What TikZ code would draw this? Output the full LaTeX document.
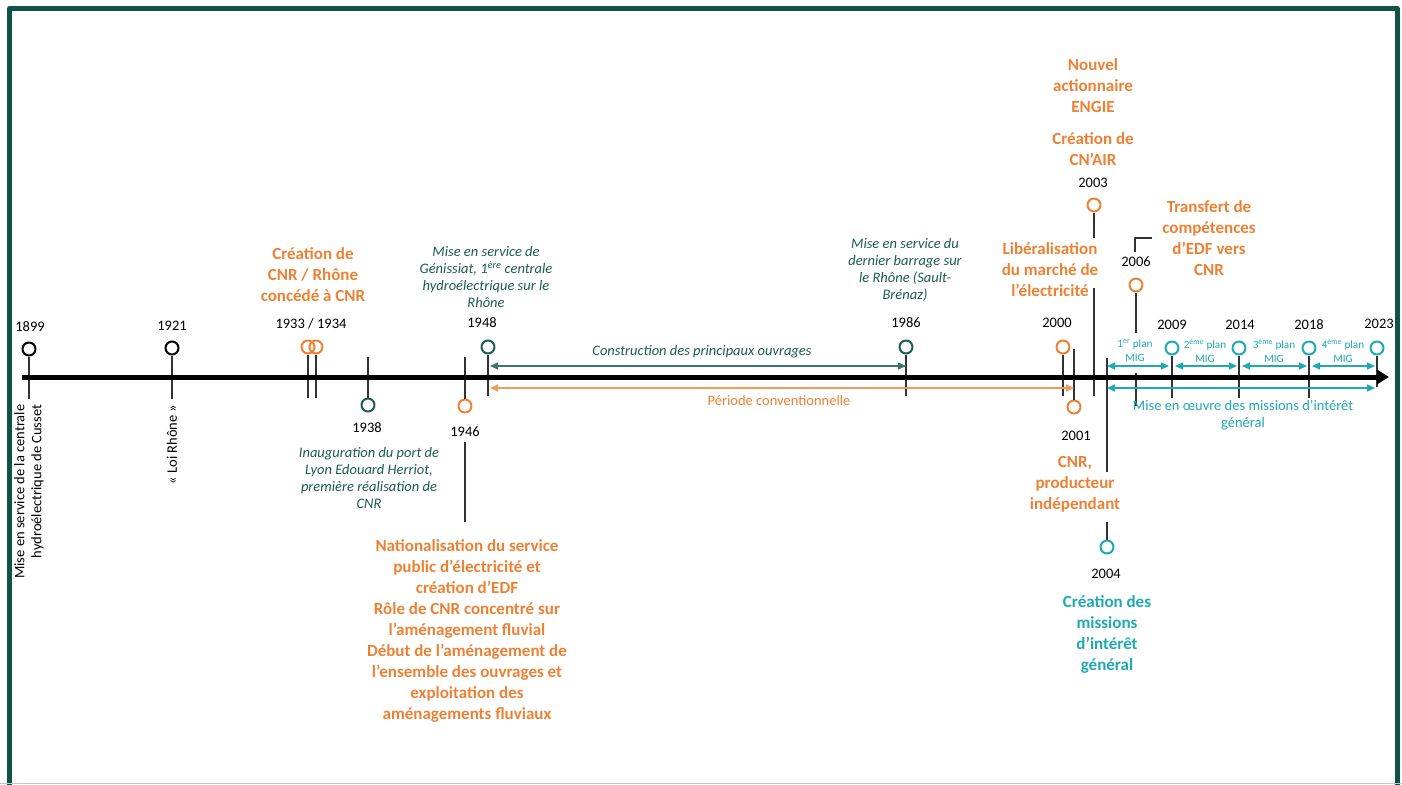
\documentclass[tikz,border=0pt]{standalone}
\usepackage{fontspec}
\setmainfont{Carlito}
\usetikzlibrary{arrows.meta}
\usetikzlibrary{positioning}
\definecolor{orangeCNR}{HTML}{EE8033}
\definecolor{vertCNR}{HTML}{1D5C4F}
\definecolor{turquoise}{HTML}{1FA9B2}
\definecolor{cadre}{HTML}{0E5346}
\definecolor{trait}{HTML}{333333}
\tikzstyle{every node}=[font=\fontsize{14.5}{17}\selectfont,inner sep=1pt]
\tikzstyle{every path}=[line width=1.3pt,line cap=round,line join=round]
\tikzstyle{jalon}=[circle,draw,line width=2pt,minimum size=13pt,inner sep=0pt]
\tikzstyle{tige}=[draw=trait,line width=1.3pt,line cap=butt]
\tikzstyle{titre}=[font=\fontsize{17}{21}\selectfont\bfseries,align=center]
\tikzstyle{legende}=[font=\fontsize{14.5}{17.2}\selectfont\itshape,align=center,text=vertCNR]
\tikzstyle{periode}=[line width=1.5pt,line cap=butt,{Triangle[length=8pt,width=7pt]}-{Triangle[length=8pt,width=7pt]}]
\tikzstyle{petit}=[font=\fontsize{11.2}{14}\selectfont,align=center,text=turquoise]

\begin{document}
\begin{tikzpicture}[x=1pt,y=-1pt]
\useasboundingbox (0,0) rectangle (1402,784);
%cadre
\draw[cadre,line width=5pt,line cap=butt] (9.5,795) -- (9.5,8.5) -- (1397,8.5) -- (1397,795);
\draw[gray!45,line width=1pt] (0,783.5) -- (1402,783.5);

%axe
\coordinate (debut) at (22,377);
\coordinate (fin) at (1389,377);
\coordinate (haut) at (0,366);
\coordinate (bas) at (0,388);

%jalons
\node[jalon,draw=black] (c1899) at (29,349) {};
\node[jalon,draw=black] (c1921) at (172,348) {};
\node[jalon,draw=orangeCNR] (c1933) at (308,347) {};
\node[jalon,draw=orangeCNR] (c1934) at (316,347) {};
\node[jalon,draw=vertCNR] (c1938) at (368,405) {};
\node[jalon,draw=orangeCNR] (c1946) at (465,406) {};
\node[jalon,draw=vertCNR] (c1948) at (488,347) {};
\node[jalon,draw=vertCNR] (c1986) at (906,347) {};
\node[jalon,draw=orangeCNR] (c2000) at (1063,347) {};
\node[jalon,draw=orangeCNR] (c2001) at (1074,407) {};
\node[jalon,draw=orangeCNR] (c2003) at (1094,205) {};
\node[jalon,draw=turquoise] (c2004) at (1107,547) {};
\node[jalon,draw=orangeCNR] (c2006) at (1136,285) {};
\node[jalon,draw=turquoise] (c2009) at (1172,348) {};
\node[jalon,draw=turquoise] (c2014) at (1239,348) {};
\node[jalon,draw=turquoise] (c2018) at (1309,348) {};
\node[jalon,draw=turquoise] (c2023) at (1377,348) {};

%tiges
\draw[tige] (c1899.south) -- ++(0,42);
\draw[tige] (c1921.south) -- ++(0,43);
\draw[tige] (c1933.south) -- ++(0,43);
\draw[tige] (c1934.south) -- ++(0,43);
\draw[tige] (c1938.north) -- ++(0,-41);
\draw[tige] (c1946.north) -- ++(0,-42);
\draw[tige] (c1948.south) -- ++(0,41);
\draw[tige] (c1986.south) -- ++(0,41);
\draw[tige] (c2000.south) -- ++(0,41);
\draw[tige] (c2001.north) -- ++(0,-51);
\draw[tige] (c2003.south) -- ++(0,25) ++(0,50) -- ++(0,108);
\draw[tige] (c2004.north) -- ++(0,-18) ++(0,-50) -- ++(0,-114);
\draw[tige] (c2006.south) -- ++(0,40) ++(0,40) -- ++(0,33);
\draw[tige] (c2009.south) -- ++(0,42);
\draw[tige] (c2014.south) -- ++(0,42);
\draw[tige] (c2018.south) -- ++(0,42);
\draw[tige] (c2023.south) -- ++(0,31);
\coordinate (crochet) at (1135,252);
\draw[tige] (crochet) -- ++(0,-14) -- ++(17,0);

\draw[line width=5pt,line cap=butt,-{Triangle[length=12pt,width=14pt]}] (debut) -- (fin);

%periodes
\draw[periode,vertCNR!85] ([xshift=2pt]c1948 |- haut) -- (c1986 |- haut);
\draw[periode,orangeCNR!80] ([xshift=2pt]c1948 |- bas) -- (c2001 |- bas);
\draw[periode,turquoise] (c2004 |- haut) -- ([xshift=-3pt]c2009 |- haut);
\draw[periode,turquoise] ([xshift=3pt]c2009 |- haut) -- ([xshift=-2pt]c2014 |- haut);
\draw[periode,turquoise] ([xshift=3pt]c2014 |- haut) -- ([xshift=-2pt]c2018 |- haut);
\draw[periode,turquoise] ([xshift=3pt]c2018 |- haut) -- ([xshift=-2pt]c2023 |- haut);
\draw[periode,turquoise] (c2004 |- bas) -- ([xshift=-2pt]c2023 |- bas);
\node[legende] (construction) at (702,352) {Construction des principaux ouvrages};
\node[text=orangeCNR] (convention) at (779,401) {Période conventionnelle};
\node[petit] (mig1) at (1135,351) {1\textsuperscript{er} plan\\MIG};
\node[petit] (mig2) at (1205,351) {2\textsuperscript{ème} plan\\MIG};
\node[petit] (mig3) at (1274,351) {3\textsuperscript{ème} plan\\MIG};
\node[petit] (mig4) at (1343,351) {4\textsuperscript{ème} plan\\MIG};
\node[text=turquoise,align=center] (oeuvre) at (1243,415) {Mise en œuvre des missions d’intérêt\\général};

%annees
\node (a1899) at (30,327) {1899};
\node (a1921) at (172,326) {1921};
\node (a1933) at (311,324) {1933 / 1934};
\node (a1938) at (367,428) {1938};
\node (a1946) at (465,432) {1946};
\node (a1948) at (482,323) {1948};
\node (a1986) at (906,323) {1986};
\node (a2000) at (1057,323) {2000};
\node (a2001) at (1076,436) {2001};
\node (a2003) at (1093,183) {2003};
\node (a2004) at (1106,574) {2004};
\node (a2006) at (1136,262) {2006};
\node (a2009) at (1172,325) {2009};
\node (a2014) at (1240,325) {2014};
\node (a2018) at (1309,325) {2018};
\node (a2023) at (1379,324) {2023};

%evenements
\node[rotate=90,anchor=east,align=right] (t1899) at (29,403) {Mise en service de la centrale\\hydroélectrique de Cusset};
\node[rotate=90,anchor=east] (t1921) at (172,403) {« Loi Rhône »};
\node[titre,text=orangeCNR] (t1933) at (313,275) {Création de\\CNR / Rhône\\concédé à CNR};
\node[legende] (t1938) at (369,478) {Inauguration du port de\\Lyon Edouard Herriot,\\première réalisation de\\CNR};
\draw[tige] (465,442) -- (465,522);
\node[titre,text=orangeCNR] (t1946) at (467,631) {Nationalisation du service\\public d’électricité et\\création d’EDF\\Rôle de CNR concentré sur\\l’aménagement fluvial\\Début de l’aménagement de\\l’ensemble des ouvrages et\\exploitation des\\aménagements fluviaux};
\node[legende] (t1948) at (486,277) {Mise en service de\\Génissiat, 1\textsuperscript{ère} centrale\\hydroélectrique sur le\\Rhône};
\node[legende] (t1986) at (905,270) {Mise en service du\\dernier barrage sur\\le Rhône (Sault-\\Brénaz)};
\node[titre,text=orangeCNR] (t2000) at (1050,270) {Libéralisation\\du marché de\\l’électricité};
\node[titre,text=orangeCNR] (t2001) at (1075,484) {CNR,\\producteur\\indépendant};
\node[titre,text=orangeCNR] (t2003a) at (1093,86) {Nouvel\\actionnaire\\ENGIE};
\node[titre,text=orangeCNR] (t2003b) at (1093,149) {Création de\\CN’AIR};
\node[titre,text=turquoise] (t2004) at (1107,634) {Création des\\missions\\d’intérêt\\général};
\node[titre,text=orangeCNR] (t2006) at (1209,238) {Transfert de\\compétences\\d’EDF vers\\CNR};
\end{tikzpicture}
\end{document}
